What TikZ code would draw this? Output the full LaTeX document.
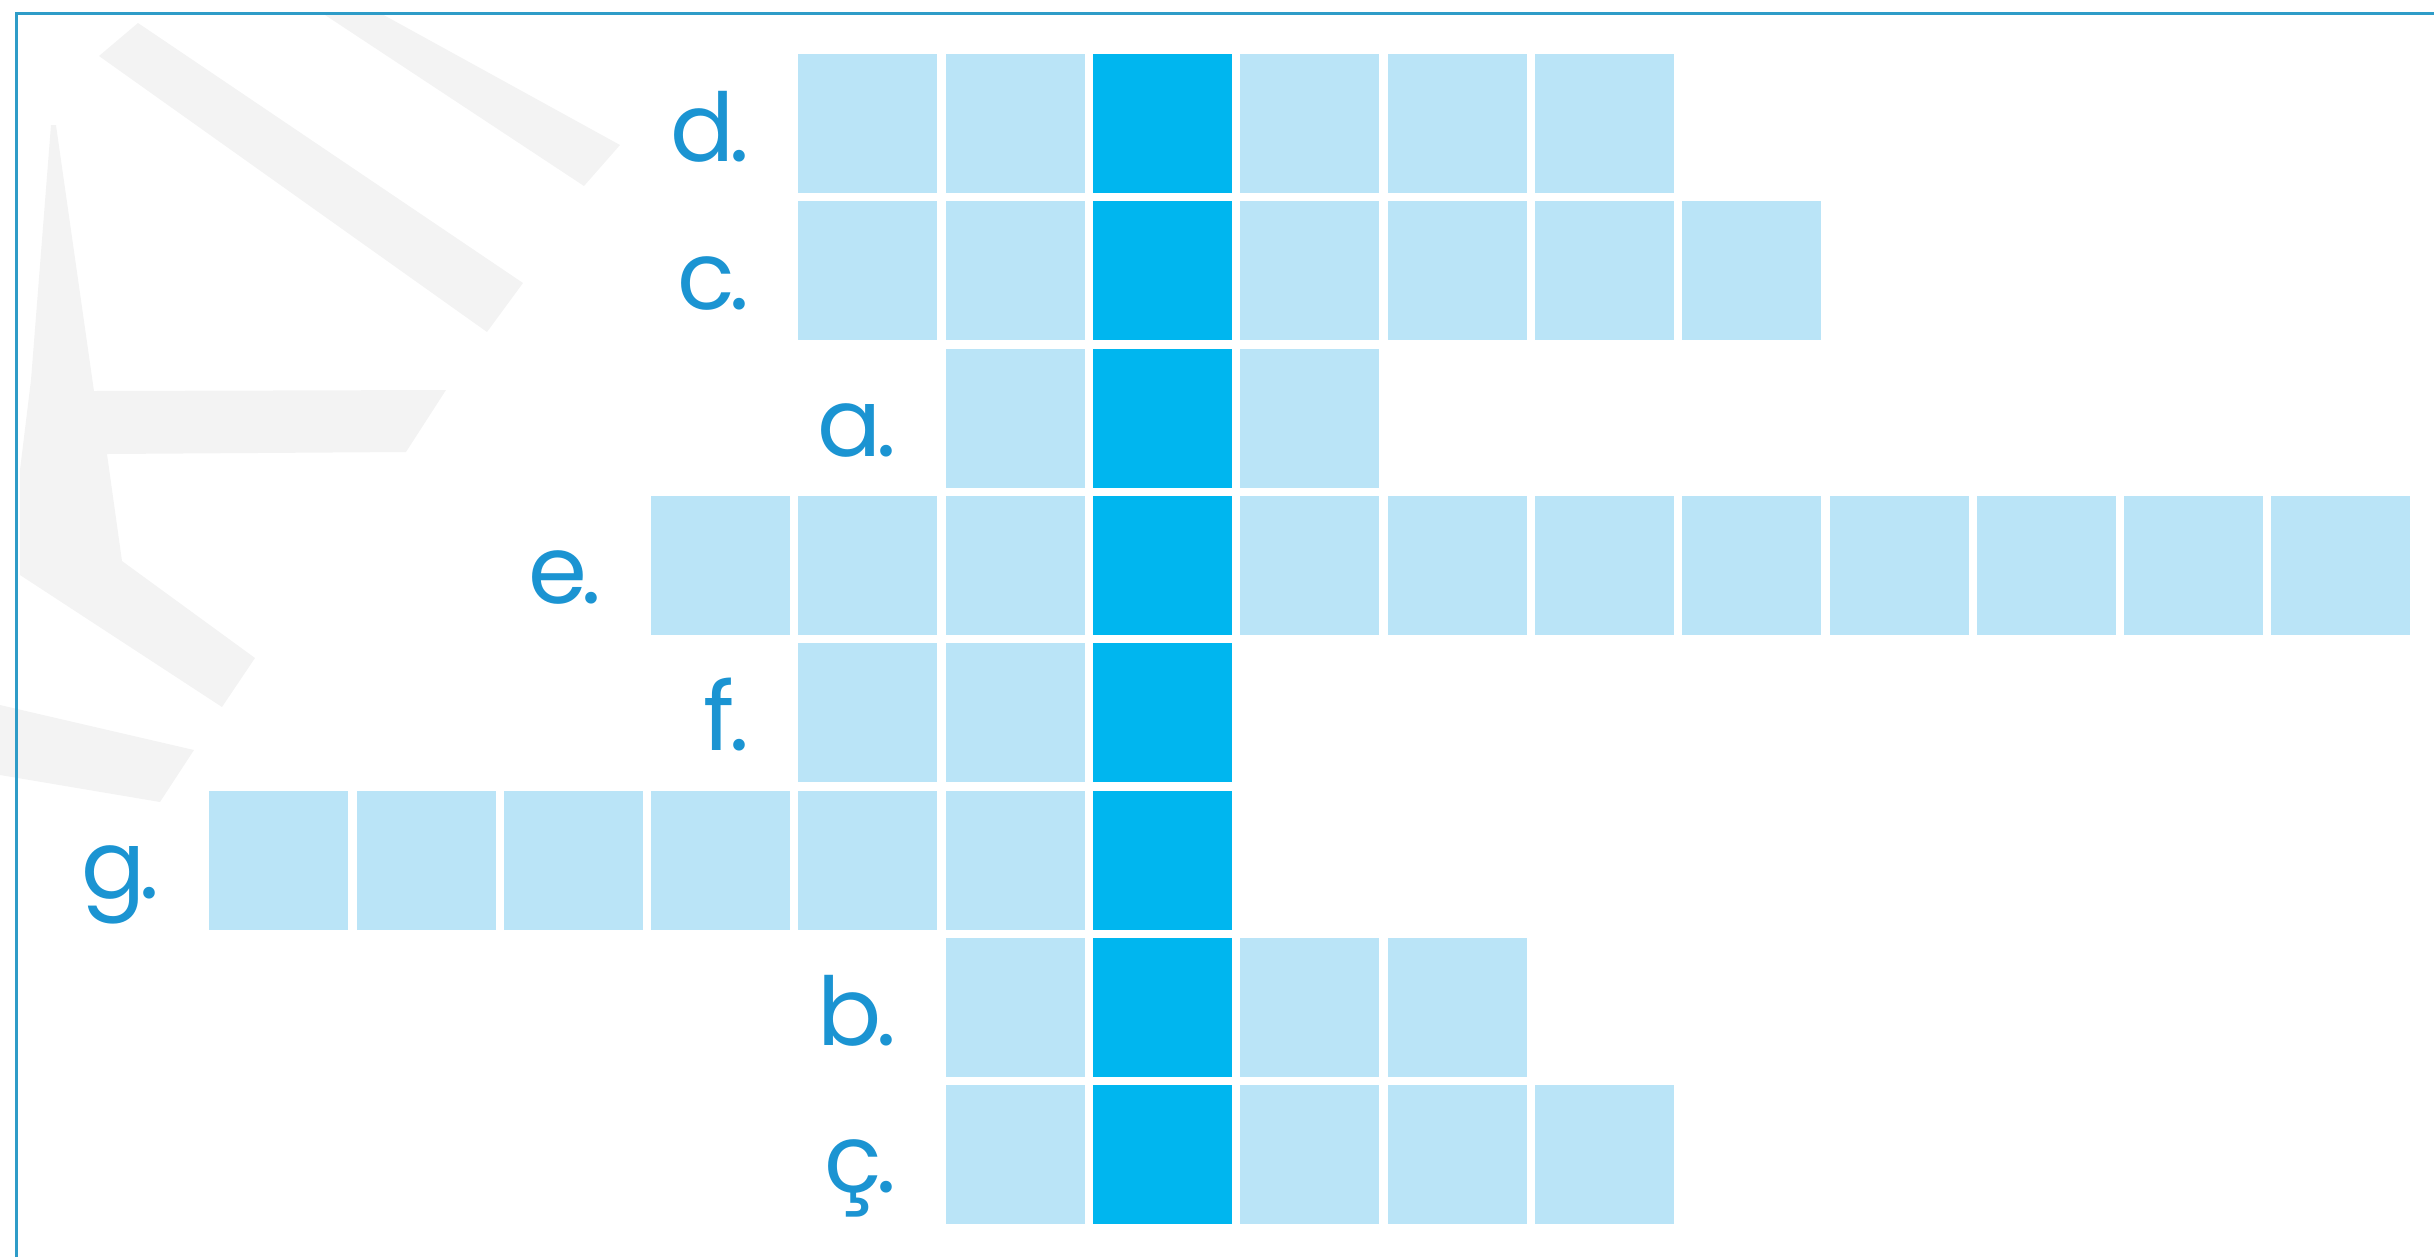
\documentclass[tikz,border=0pt]{standalone}
\usepackage{fontspec}
\setmainfont{Poppins}
\definecolor{cellblue}{HTML}{BAE4F7}
\definecolor{keyblue}{HTML}{00B6EF}
\definecolor{clueblue}{HTML}{1B94D2}
\definecolor{rimblue}{HTML}{2E9CC8}
\definecolor{ghost}{HTML}{F3F3F3}
\tikzset{
  cell/.style={minimum size=13.9mm, inner sep=0pt, fill=cellblue},
  keycell/.style={cell, fill=keyblue},
  clue/.style={text=clueblue, font=\fontsize{27}{31}\selectfont, inner sep=0pt, anchor=base east},
}
\begin{document}
\begin{tikzpicture}[x=0.1mm, y=-0.1mm]
\useasboundingbox (0,0) rectangle (2434,1257);

% faint watermark
\fill[ghost] (138,23) -- (523,283) -- (487,332) -- (99,56) -- cycle;
\fill[ghost] (322,13) -- (380,13) -- (620,145) -- (584,186) -- cycle;
\fill[ghost] (51,125) -- (56,125) -- (94,391) -- (446,390) -- (406,452) -- (107,454)
  -- (122,561) -- (255,658) -- (222,707) -- (20,575) -- (20,470) -- (31,380) -- cycle;
\fill[ghost] (0,705) -- (194,750) -- (160,802) -- (0,775) -- cycle;

% frame
\draw[rimblue, line width=0.3mm] (16.5,1257) -- (16.5,13.5) -- (2434,13.5);

% rows: name/letter/row/first column/last column
\foreach \nm/\txt/\r/\first/\last in {d/d/0/-2/3, c/c/1/-2/4, a/a/2/-1/1, e/e/3/-3/8,
    f/f/4/-2/0, g/g/5/-6/0, b/b/6/-1/2, cc/ç/7/-1/3}{
  \foreach \k in {\first,...,\last}{
    \ifnum\k=0
      \node[keycell] (\nm-\k) at ({1162.5+147.3*\k}, {123.5+147.3*\r}) {};
    \else
      \node[cell] (\nm-\k) at ({1162.5+147.3*\k}, {123.5+147.3*\r}) {};
    \fi
  }
  \node[clue] (lab-\nm) at ([xshift=-4.8mm, yshift=3.2mm]\nm-\first.south west) {\txt\kern-.06em.};
}
\end{tikzpicture}
\end{document}
